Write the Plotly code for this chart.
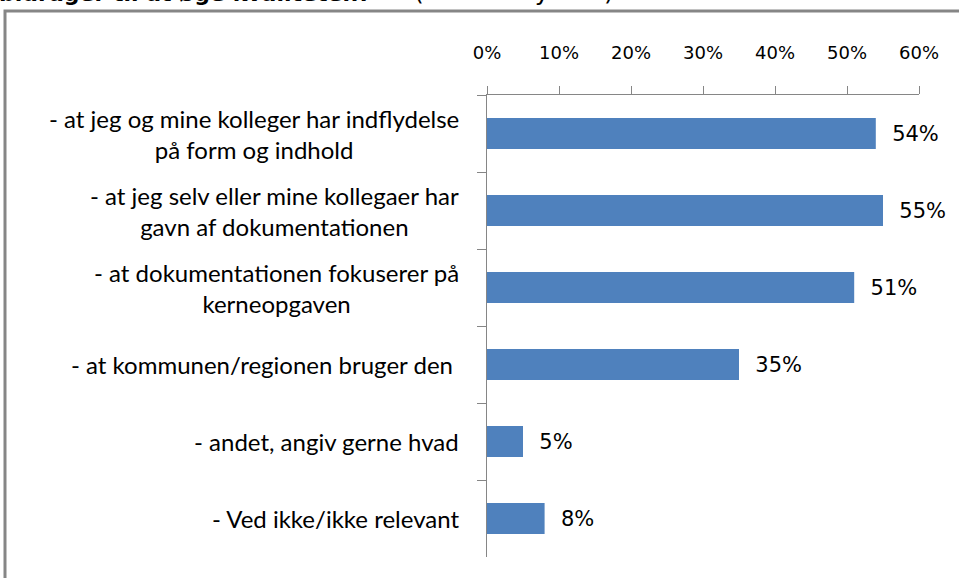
import plotly.graph_objects as go

categories = [
    "- at jeg og mine kolleger har indflydelse<br>på form og indhold",
    "- at jeg selv eller mine kollegaer har<br>gavn af dokumentationen",
    "- at dokumentationen fokuserer på<br>kerneopgaven",
    "- at kommunen/regionen bruger den\u00a0",
    "- andet, angiv gerne hvad",
    "- Ved ikke/ikke relevant",
]
values = [0.54, 0.55, 0.51, 0.35, 0.05, 0.08]
tick_vals = [0, 0.1, 0.2, 0.3, 0.4, 0.5, 0.6]
tick_text = ["0%", "10%", "20%", "30%", "40%", "50%", "60%"]
title_bold = "bidrager til at øge kvaliteten?"
title_rest = "(max 3 krydser)"

W, H = 959, 578
L, R, T, B = 487, 40, 95, 21
pw, ph = W - L - R, H - T - B

def px_x(x):
    return (x - L) / pw

def px_y(y):
    return (H - B - y) / ph

GRAY = "#868686"
BLUE = "#4F81BD"

fig = go.Figure()
fig.add_trace(go.Bar(
    x=values,
    y=categories,
    orientation="h",
    marker=dict(color=BLUE, line=dict(width=0)),
    text=["\u00a0\u00a0" + f"{round(v*100)}%" for v in values],
    textposition="outside",
    textfont=dict(family="DejaVu Sans", size=21, color="black"),
    constraintext="none",
    cliponaxis=False,
    hoverinfo="skip",
))

annotations = []
for c in categories:
    annotations.append(dict(
        x=px_x(461), xref="paper", xanchor="right",
        y=c, yref="y", yanchor="middle",
        text=c, showarrow=False, align="center",
        font=dict(family="Lato", size=24, color="black"),
    ))

annotations.append(dict(
    x=px_x(-3), xref="paper", xanchor="left",
    y=px_y(8), yref="paper", yanchor="bottom",
    text="<b>" + title_bold + "</b>", showarrow=False,
    font=dict(family="DejaVu Sans", size=22, color="black"),
))
annotations.append(dict(
    x=px_x(412), xref="paper", xanchor="left",
    y=px_y(8), yref="paper", yanchor="bottom",
    text=title_rest, showarrow=False,
    font=dict(family="DejaVu Sans", size=25, color="black"),
))

fig.update_layout(
    width=W, height=H,
    margin=dict(l=L, r=R, t=T, b=B, pad=0),
    paper_bgcolor="white", plot_bgcolor="white",
    bargap=0.6,
    showlegend=False,
    annotations=annotations,
    shapes=[dict(
        type="rect", xref="paper", yref="paper",
        x0=px_x(5), x1=px_x(1000), y0=px_y(620), y1=px_y(11),
        line=dict(color=GRAY, width=3), fillcolor="rgba(0,0,0,0)",
        layer="below",
    )],
    xaxis=dict(
        side="top", range=[0, 0.6],
        tickvals=tick_vals, ticktext=tick_text,
        ticks="outside", ticklen=8, tickcolor=GRAY, tickwidth=1,
        showline=True, linecolor=GRAY, linewidth=1,
        showgrid=False, zeroline=False,
        tickfont=dict(family="DejaVu Sans", size=18, color="black"),
        ticklabelstandoff=20,
        fixedrange=True,
    ),
    yaxis=dict(
        categoryorder="array", categoryarray=categories,
        autorange="reversed",
        showticklabels=False,
        ticks="outside", ticklen=9, tickcolor=GRAY, tickwidth=1,
        tickson="boundaries",
        showline=True, linecolor=GRAY, linewidth=1,
        showgrid=False, zeroline=False,
        fixedrange=True,
    ),
)

fig.write_html(
    "out.html",
    config={"displayModeBar": False},
    post_script="document.body.style.margin='0';document.body.style.overflow='hidden';",
)
